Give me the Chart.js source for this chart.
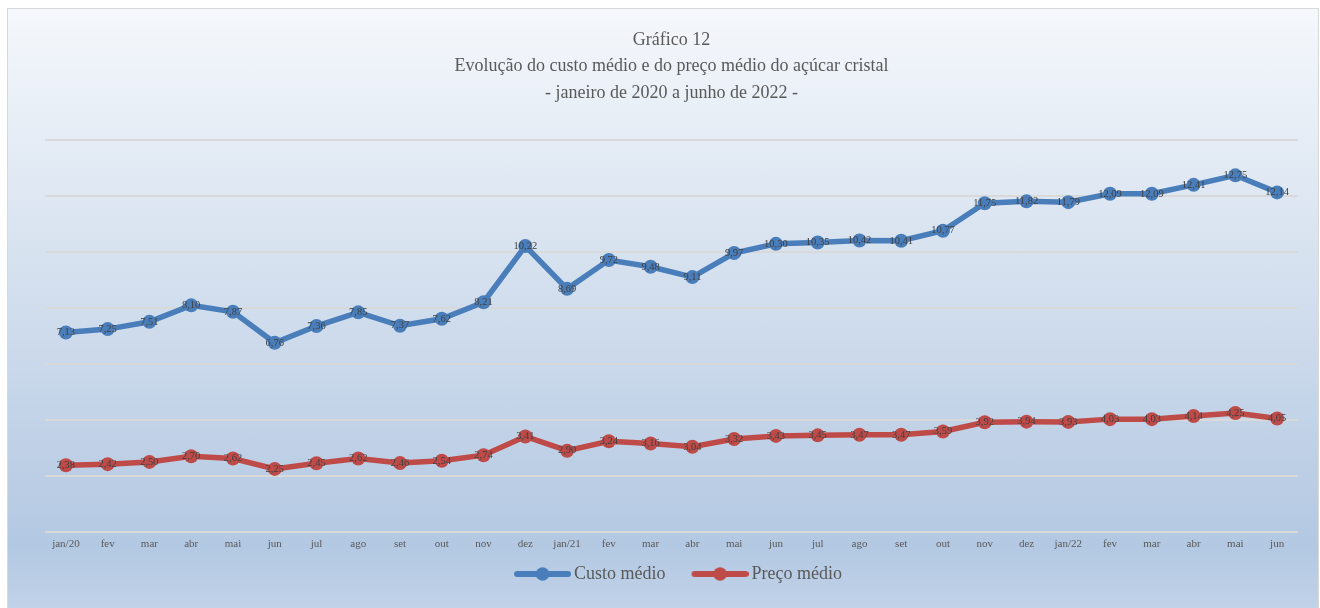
<!DOCTYPE html>
<html>
<head>
<meta charset="utf-8">
<script src="https://cdn.jsdelivr.net/npm/chart.js@4/dist/chart.umd.min.js"></script>
<style>
  html, body { margin: 0; padding: 0; background: #ffffff; }
  #frame {
    position: absolute; left: 7px; top: 8px; width: 1310px; height: 610px;
    border: 1.5px solid #d9d9d9;
    background: linear-gradient(to bottom, #f5f8fc 0%, #dbe5f1 35%, #b3c8e2 88%, #c3d4ea 100%);
  }
  #wrap { position: absolute; left: 0; top: 0; width: 1320px; height: 608px; }
</style>
</head>
<body>
<div id="frame"></div>
<div id="wrap"><canvas id="c" width="1320" height="608"></canvas></div>
<script>
const titleLines = ['Gráfico 12', 'Evolução do custo médio e do preço médio do açúcar cristal', '- janeiro de 2020 a junho de 2022 -'];
const categories = ['jan/20','fev','mar','abr','mai','jun','jul','ago','set','out','nov','dez',
  'jan/21','fev','mar','abr','mai','jun','jul','ago','set','out','nov','dez',
  'jan/22','fev','mar','abr','mai','jun'];
const custoMedio = [7.13,7.25,7.51,8.10,7.87,6.76,7.36,7.85,7.37,7.62,8.21,10.22,
  8.69,9.72,9.48,9.11,9.97,10.30,10.35,10.42,10.41,10.77,11.75,11.82,
  11.79,12.09,12.09,12.41,12.75,12.14];
const precoMedio = [2.38,2.42,2.50,2.70,2.62,2.25,2.45,2.62,2.46,2.54,2.74,3.41,
  2.90,3.24,3.16,3.04,3.32,3.43,3.45,3.47,3.47,3.59,3.92,3.94,
  3.93,4.03,4.03,4.14,4.25,4.05];
const seriesNames = ['Custo médio', 'Preço médio'];
const yMin = 0, yMax = 14, yStep = 2;

const BLUE = '#4a7ebb', RED = '#be4b48';
const SERIF = '"Liberation Serif", "Times New Roman", serif';

const LEG_PAD = 13, LEG_BLANK = 19, LEG_LINE = 57;
function legendMarker(color) {
  const W = LEG_LINE + LEG_BLANK, H = 16;
  const c = document.createElement('canvas');
  c.width = W; c.height = H;
  const g = c.getContext('2d');
  g.strokeStyle = color; g.lineWidth = 6; g.lineCap = 'round';
  g.beginPath(); g.moveTo(LEG_BLANK + 3, H / 2); g.lineTo(W - 3, H / 2); g.stroke();
  g.fillStyle = color;
  g.beginPath(); g.arc(LEG_BLANK + LEG_LINE / 2, H / 2, 6.8, 0, Math.PI * 2); g.fill();
  return c;
}
const markers = [legendMarker(BLUE), legendMarker(RED)];

const dataLabels = {
  id: 'dataLabels',
  afterDatasetsDraw(chart) {
    const ctx = chart.ctx;
    ctx.save();
    ctx.font = '10.5px ' + SERIF;
    ctx.fillStyle = '#404040';
    ctx.textAlign = 'center';
    ctx.textBaseline = 'middle';
    chart.data.datasets.forEach((ds, i) => {
      const meta = chart.getDatasetMeta(i);
      meta.data.forEach((pt, j) => {
        ctx.fillText(ds.data[j].toFixed(2).replace('.', ','), pt.x, pt.y);
      });
    });
    ctx.restore();
  }
};

new Chart(document.getElementById('c'), {
  type: 'line',
  data: {
    labels: categories,
    datasets: [
      { label: seriesNames[0], data: custoMedio, borderColor: BLUE, backgroundColor: BLUE,
        borderWidth: 5.5, pointRadius: 7, pointBorderWidth: 0, pointHoverRadius: 7, tension: 0 },
      { label: seriesNames[1], data: precoMedio, borderColor: RED, backgroundColor: RED,
        borderWidth: 5.5, pointRadius: 7, pointBorderWidth: 0, pointHoverRadius: 7, tension: 0 }
    ]
  },
  options: {
    responsive: false,
    animation: false,
    events: [],
    layout: { padding: { left: 45, right: 22, top: 0, bottom: 15 } },
    scales: {
      x: {
        offset: true,
        grid: { display: false, drawTicks: false },
        border: { display: false },
        ticks: { color: '#595959', font: { family: SERIF, size: 11 }, padding: 6, maxRotation: 0, autoSkip: false },
        afterFit(scale) { scale.height -= 5; }
      },
      y: {
        min: yMin, max: yMax,
        ticks: { display: false, stepSize: yStep },
        grid: { color: '#d9d9d9', lineWidth: 2, drawTicks: false },
        border: { display: false }
      }
    },
    plugins: {
      title: {
        display: true, text: titleLines, color: '#595959',
        font: { family: SERIF, size: 18, weight: 'normal', lineHeight: 1.47 },
        padding: { top: 27, bottom: 34 }
      },
      legend: {
        position: 'bottom',
        labels: {
          usePointStyle: true, pointStyleWidth: LEG_LINE + LEG_BLANK - 12,
          color: '#595959', font: { family: SERIF, size: 18 }, padding: LEG_PAD,
          generateLabels(chart) {
            return chart.data.datasets.map((ds, i) => ({
              text: ds.label, pointStyle: markers[i], fillStyle: ds.borderColor,
              strokeStyle: ds.borderColor, lineWidth: 0, hidden: false, datasetIndex: i, fontColor: '#595959'
            }));
          }
        }
      },
      tooltip: { enabled: false }
    }
  },
  plugins: [dataLabels]
});
</script>
</body>
</html>
